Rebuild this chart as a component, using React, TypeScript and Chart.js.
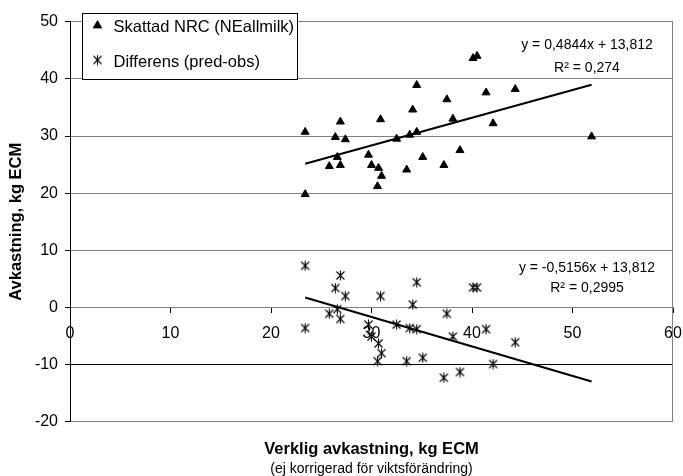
import { useEffect, useRef } from 'react';
import { Chart, registerables } from 'chart.js';

Chart.register(...registerables);

const FONT = "'Liberation Sans', Arial, Helvetica, sans-serif";
const GRID = '#808080';

// Observed yield per cow (kg ECM, not corrected for weight change)
const observed = [23.4, 23.4, 25.8, 26.4, 26.6, 26.9, 26.9, 27.4, 29.7, 30.0, 30.6, 30.7, 30.9, 31.0, 32.5, 33.5, 33.8, 34.1, 34.5, 34.5, 35.1, 37.2, 37.5, 38.1, 38.8, 40.1, 40.5, 41.4, 42.1, 44.3, 51.9];
// Yield estimated with NRC (NEallmilk)
const predicted = [30.7, 19.8, 24.7, 29.8, 26.3, 32.5, 24.9, 29.4, 26.7, 24.9, 21.2, 24.4, 32.9, 23.0, 29.5, 24.1, 30.2, 34.6, 38.9, 30.7, 26.3, 24.9, 36.4, 33.0, 27.5, 43.6, 44.0, 37.6, 32.2, 38.2, 29.9];
// Predicted minus observed
const difference = [7.3, -3.6, -1.1, 3.4, -0.3, 5.6, -2.0, 2.0, -3.0, -5.1, -9.4, -6.3, 2.0, -8.0, -3.0, -9.4, -3.6, 0.5, 4.4, -3.8, -8.8, -12.3, -1.1, -5.1, -11.3, 3.5, 3.5, -3.8, -9.9, -6.1, -22.0];

const seriesNames = ['Skattad NRC (NEallmilk)', 'Differens (pred-obs)'];

// Linear trend lines, as given by their equations
const trendSlopes = [0.4844, -0.5156];
const trendIntercepts = [13.812, 13.812];
const equationLabels = ['y = 0,4844x + 13,812', 'y = -0,5156x + 13,812'];
const r2Labels = ['R² = 0,274', 'R² = 0,2995'];

const xRange = [0, 60];
const yRange = [-20, 50];
const tickStep = 10;

const xTitle = 'Verklig avkastning, kg ECM';
const xSubtitle = '(ej korrigerad för viktsförändring)';
const yTitle = 'Avkastning, kg ECM';

function makeAsterisk(): HTMLCanvasElement {
  const c = document.createElement('canvas');
  c.width = 11;
  c.height = 11;
  const g = c.getContext('2d')!;
  g.strokeStyle = '#000';
  g.lineWidth = 1.1;
  g.beginPath();
  g.moveTo(1.5, 1.5);
  g.lineTo(9.5, 9.5);
  g.moveTo(9.5, 1.5);
  g.lineTo(1.5, 9.5);
  g.moveTo(5.5, 0.5);
  g.lineTo(5.5, 10.5);
  g.stroke();
  return c;
}

function trendPoints(slope: number, intercept: number) {
  const lo = Math.min(...observed);
  const hi = Math.max(...observed);
  return [
    { x: lo, y: slope * lo + intercept },
    { x: hi, y: slope * hi + intercept },
  ];
}

function drawTriangle(ctx: CanvasRenderingContext2D, x: number, y: number, r: number) {
  ctx.beginPath();
  ctx.moveTo(x, y - r);
  ctx.lineTo(x + r * Math.sin((2 * Math.PI) / 3), y + r / 2);
  ctx.lineTo(x - r * Math.sin((2 * Math.PI) / 3), y + r / 2);
  ctx.closePath();
  ctx.fill();
  ctx.stroke();
}

export default function App() {
  const ref = useRef<HTMLCanvasElement>(null);

  useEffect(() => {
    const canvas = ref.current;
    if (!canvas) return;
    const star = makeAsterisk();

    const overlay = {
      id: 'overlay',
      beforeDatasetsDraw(chart: any) {
        const { ctx, chartArea: a } = chart;
        ctx.save();
        ctx.strokeStyle = GRID;
        ctx.lineWidth = 1;
        const rx = Math.round(a.right) - 0.5;
        ctx.beginPath();
        ctx.moveTo(rx, a.top);
        ctx.lineTo(rx, a.bottom);
        ctx.stroke();
        ctx.restore();
      },
      afterDatasetsDraw(chart: any) {
        const { ctx, chartArea: a, scales } = chart;
        const ys = scales.y;
        ctx.save();

        // legend box
        const left = Math.round(a.left + 12) + 0.5;
        const top = Math.round(a.top - 9) + 0.5;
        const right = Math.round(a.left + 227) + 0.5;
        const bottom = Math.round(ys.getPixelForValue(40)) + 0.5;
        ctx.fillStyle = '#fff';
        ctx.fillRect(left, top, right - left, bottom - top);
        ctx.strokeStyle = '#000';
        ctx.lineWidth = 1;
        ctx.strokeRect(left, top, right - left, bottom - top);

        ctx.fillStyle = '#000';
        ctx.strokeStyle = '#000';
        drawTriangle(ctx, left + 15, top + 12, 4.8);
        ctx.drawImage(star, left + 15 - star.width / 2, top + 46.5 - star.height / 2);
        ctx.font = `16.5px ${FONT}`;
        ctx.textAlign = 'left';
        ctx.textBaseline = 'alphabetic';
        ctx.fillText(seriesNames[0], left + 31, top + 18);
        ctx.fillText(seriesNames[1], left + 31, top + 53);

        // trend line equations
        ctx.font = `14px ${FONT}`;
        ctx.textAlign = 'center';
        const cx = a.right - 86;
        ctx.fillText(equationLabels[0], cx, a.top + 27.5);
        ctx.fillText(r2Labels[0], cx, a.top + 50);
        const zero = ys.getPixelForValue(0);
        ctx.fillText(equationLabels[1], cx, zero - 35);
        ctx.fillText(r2Labels[1], cx, zero - 15);
        ctx.restore();
      },
    };

    const chart = new Chart(canvas, {
      type: 'scatter',
      data: {
        datasets: [
          {
            label: seriesNames[0],
            data: observed.map((x, i) => ({ x, y: predicted[i] })),
            pointStyle: 'triangle',
            pointRadius: 4.6,
            pointBackgroundColor: '#000',
            pointBorderColor: '#000',
            pointBorderWidth: 1,
          },
          {
            label: seriesNames[1],
            data: observed.map((x, i) => ({ x, y: difference[i] })),
            pointStyle: star,
            pointRadius: 5,
          },
          {
            label: 'Linjär (' + seriesNames[0] + ')',
            data: trendPoints(trendSlopes[0], trendIntercepts[0]),
            showLine: true,
            borderColor: '#000',
            borderWidth: 2,
            pointRadius: 0,
          },
          {
            label: 'Linjär (' + seriesNames[1] + ')',
            data: trendPoints(trendSlopes[1], trendIntercepts[1]),
            showLine: true,
            borderColor: '#000',
            borderWidth: 2,
            pointRadius: 0,
          },
        ],
      } as any,
      options: {
        responsive: false,
        maintainAspectRatio: false,
        animation: false,
        events: [],
        layout: { padding: { left: 0, right: 10, top: 21.7, bottom: 0 } },
        plugins: {
          legend: { display: false },
          tooltip: { enabled: false },
          title: {
            display: true,
            position: 'bottom',
            fullSize: false,
            weight: 1000,
            text: xTitle,
            color: '#000',
            font: { family: FONT, size: 16.5, weight: 'bold', lineHeight: 1 },
            padding: { top: 19.75, bottom: 0 },
          },
          subtitle: {
            display: true,
            position: 'bottom',
            fullSize: false,
            weight: 1500,
            text: xSubtitle,
            color: '#000',
            font: { family: FONT, size: 14, weight: 'normal', lineHeight: 1 },
            padding: { top: 4, bottom: 0 },
          },
        } as any,
        scales: {
          x: {
            type: 'linear',
            position: { y: 0 } as any,
            min: xRange[0],
            max: xRange[1],
            ticks: {
              stepSize: tickStep,
              color: '#000',
              font: { family: FONT, size: 16 },
              padding: 12,
              maxRotation: 0,
            },
            grid: {
              drawOnChartArea: false,
              drawTicks: true,
              tickLength: 5,
              tickColor: '#000',
            },
            border: { color: GRID, width: 1 },
            afterFit: (s: any) => {
              // the last tick label may run to the canvas edge
              s.paddingLeft = 0;
              s.paddingRight = 0;
            },
          },
          y: {
            type: 'linear',
            position: 'left',
            min: yRange[0],
            max: yRange[1],
            ticks: {
              stepSize: tickStep,
              color: '#000',
              font: { family: FONT, size: 16 },
              padding: 7,
            },
            grid: {
              color: (c: any) => (c.tick && c.tick.value === -10 ? '#000' : GRID),
              lineWidth: 1,
              drawTicks: true,
              tickLength: 5,
              tickColor: '#000',
            },
            border: { color: '#000', width: 1 },
            title: {
              display: true,
              text: yTitle,
              color: '#000',
              font: { family: FONT, size: 16.5, weight: 'bold', lineHeight: 1.2 },
              padding: { top: 7, bottom: 0 },
            },
            afterFit: (s: any) => {
              s.width = 70;
            },
          },
        },
      } as any,
      plugins: [overlay],
    });

    return () => chart.destroy();
  }, []);

  return (
    <div style={{ position: 'absolute', left: 0, top: 0, width: 683, height: 476, background: '#fff' }}>
      <canvas ref={ref} width={683} height={476} style={{ display: 'block' }} />
    </div>
  );
}
